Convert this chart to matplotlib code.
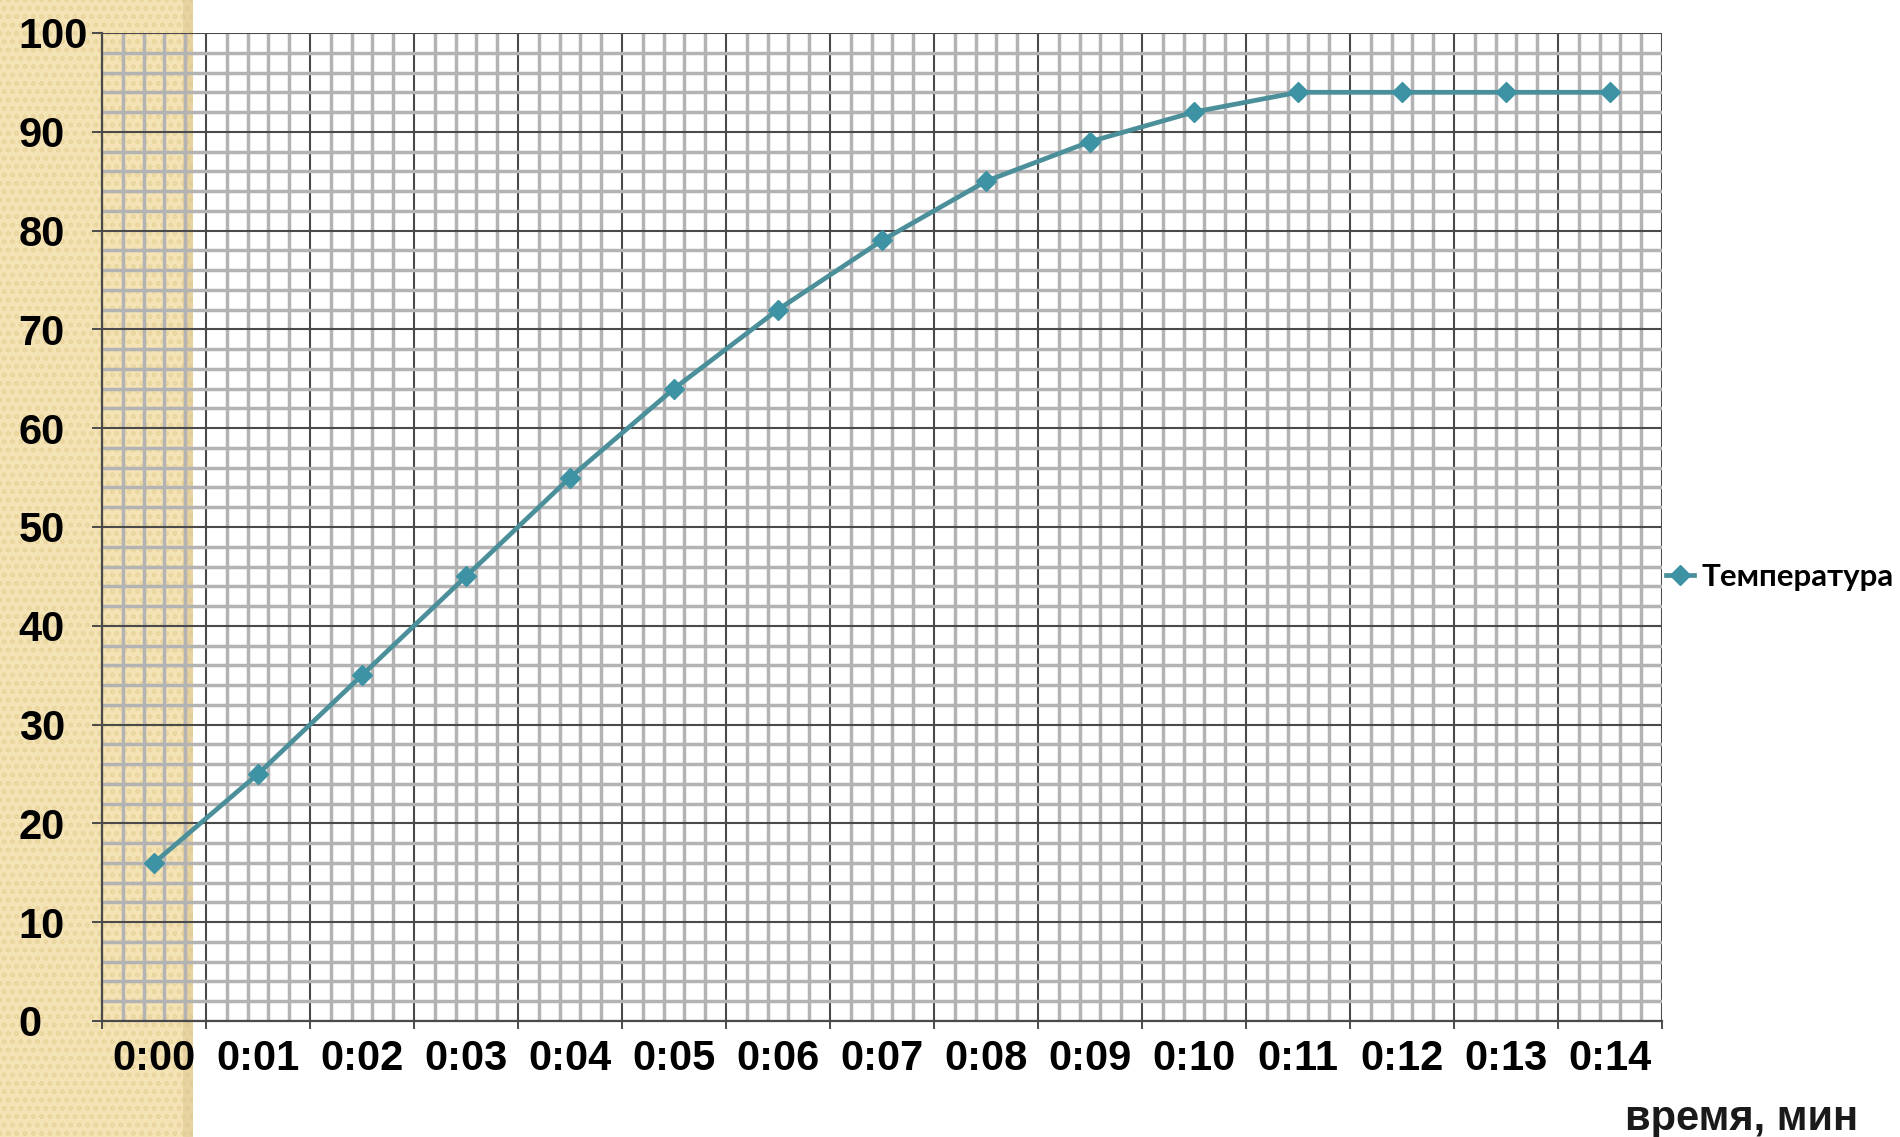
import matplotlib

matplotlib.use("Agg")
import matplotlib.pyplot as plt
import matplotlib.ticker as mticker
from matplotlib.patches import Rectangle

# data
time_labels = ["0:00", "0:01", "0:02", "0:03", "0:04", "0:05", "0:06", "0:07",
               "0:08", "0:09", "0:10", "0:11", "0:12", "0:13", "0:14"]
temperature = [16, 25, 35, 45, 55, 64, 72, 79, 85, 89, 92, 94, 94, 94, 94]
series_name = "Температура"
x_title = "время, мин"

W, H = 1900, 1137
fig = plt.figure(figsize=(W / 100, H / 100), dpi=100)
fig.patch.set_facecolor("white")

# beige textured strip on the left
strip = Rectangle((0, 0), 193 / W, 1, transform=fig.transFigure,
                  facecolor="#f4e3b5", edgecolor="#ead59f", hatch="oo",
                  linewidth=0, zorder=-10)
fig.patches.append(strip)
shade = Rectangle((183 / W, 0), 10 / W, 1, transform=fig.transFigure,
                  facecolor="#d9c48e", alpha=0.5, linewidth=0, zorder=-9)
fig.patches.append(shade)

ax = fig.add_axes([102 / W, 1 - 1021 / H, (1662 - 102) / W, (1021 - 33) / H])
ax.set_facecolor("none")

x = list(range(len(time_labels)))
ax.plot(x, temperature, color="#4a8f99", linewidth=3.4, marker="D",
        markersize=10, markerfacecolor="#3d93a4", markeredgecolor="#3d93a4",
        label=series_name, zorder=5)

ax.set_xlim(-0.5, len(time_labels) - 0.5)
ax.set_ylim(0, 100)

# y axis: majors every 10, minors every 2
ax.yaxis.set_major_locator(mticker.MultipleLocator(10))
ax.yaxis.set_minor_locator(mticker.MultipleLocator(2))
# x axis: majors at category borders, minors at fifths
ax.xaxis.set_major_locator(mticker.MultipleLocator(1, offset=0.5))
ax.xaxis.set_minor_locator(mticker.MultipleLocator(0.2, offset=0.1))
ax.xaxis.set_major_formatter(mticker.NullFormatter())

ax.grid(which="minor", color="#b3b3b3", linewidth=2.5, zorder=0)
ax.grid(which="major", color="#4a4a4a", linewidth=1.5, zorder=1)
ax.set_axisbelow(True)

for side in ("top", "right"):
    ax.spines[side].set_visible(False)
for side in ("left", "bottom"):
    ax.spines[side].set_color("#4a4a4a")
    ax.spines[side].set_linewidth(1.6)

ax.tick_params(which="minor", length=0)
ax.tick_params(axis="x", which="major", length=6, width=1.4, color="#4a4a4a")
ax.tick_params(axis="y", which="major", length=7, width=1.4, color="#4a4a4a",
               pad=53, labelsize=30)
for lbl in ax.get_yticklabels():
    lbl.set_horizontalalignment("left")
    lbl.set_fontweight("bold")
    lbl.set_fontfamily("Liberation Sans")

# category labels at the centres
sec = ax.secondary_xaxis("bottom")
sec.set_xticks(x, time_labels)
sec.tick_params(length=0, pad=13, labelsize=30)
sec.spines["bottom"].set_visible(False)
for lbl in sec.get_xticklabels():
    lbl.set_fontweight("bold")
    lbl.set_fontfamily("Liberation Sans")

fig.text(1858 / W, 1 - 1130 / H, x_title, ha="right", va="baseline",
         fontsize=30, fontweight="bold", family="Liberation Sans", color="#1a1a1a")

fig.legend(loc="center left", bbox_to_anchor=(1666 / W, 1 - 577 / H),
           frameon=False, borderpad=0, borderaxespad=0,
           handlelength=0.9, handletextpad=0.25,
           prop={"family": "Lato", "weight": "bold", "size": 22.5})

fig.savefig("out.png", dpi=100)
plt.close(fig)
